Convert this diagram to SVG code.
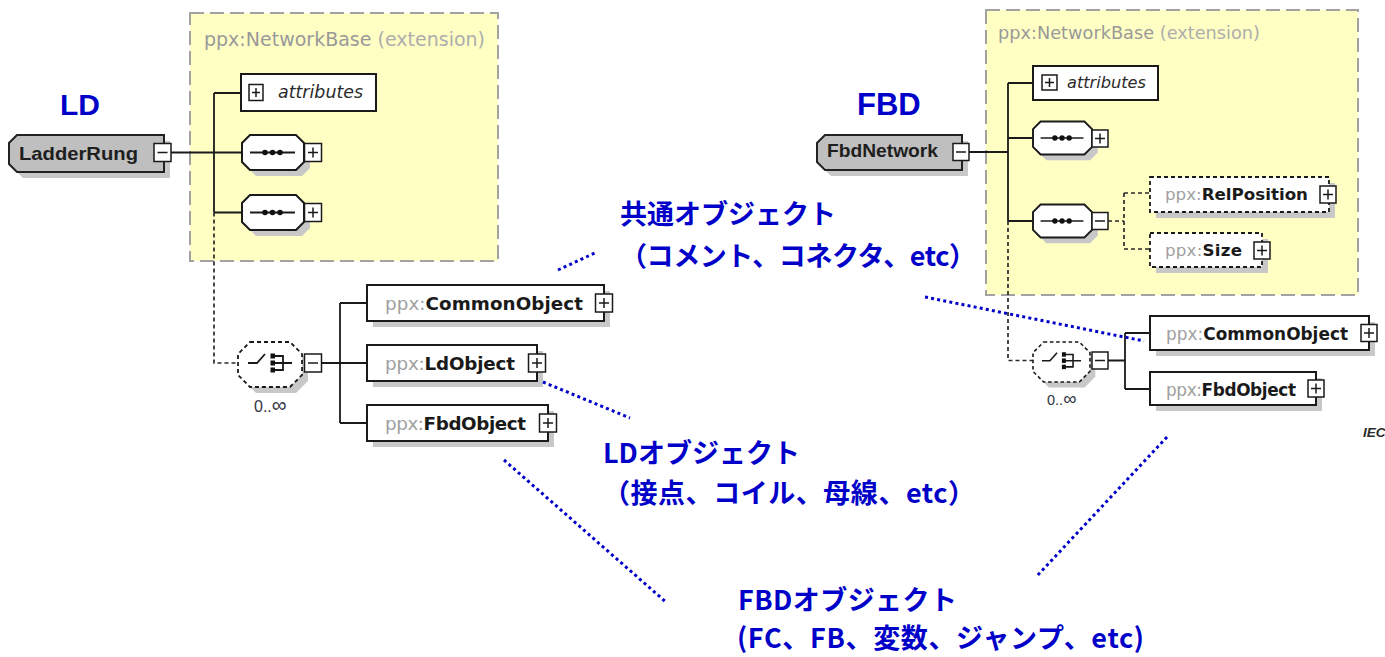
<svg xmlns="http://www.w3.org/2000/svg" xmlns:xlink="http://www.w3.org/1999/xlink" width="1385" height="657" viewBox="0 0 1385 657">
  <style>
    .ext{fill:#ffffc4;stroke:#a2a2a2;stroke-width:2;stroke-dasharray:14 6}
    .ext-a{fill:#999999}
    .ext-b{fill:#adadad}
    .box{fill:#fff;stroke:#1a1a1a;stroke-width:2}
    .opt{fill:#fff;stroke:#1a1a1a;stroke-width:1.8;stroke-dasharray:4 3}
    .gray{fill:#bfbfbf;stroke:#222;stroke-width:2}
    .shadow{fill:#c8c8c8}
    .pm{fill:#fff;stroke:#1a1a1a;stroke-width:1.5}
    .pmx{stroke:#1a1a1a;stroke-width:1.5;fill:none}
    .wire{stroke:#1a1a1a;stroke-width:1.8;fill:none}
    .dwire{stroke:#2a2a2a;stroke-width:1.7;stroke-dasharray:4 3;fill:none}
    .dot{fill:#111}
    .lbl{font-family:"DejaVu Sans","Liberation Sans",sans-serif}
    .top{font-family:"Liberation Sans",Arial,sans-serif;font-weight:bold;fill:#1e1e1e}
    .pfx{fill:#a0a0a0}
    .nm{fill:#1a1a1a;font-weight:bold}
    .it{fill:#2a2a2a;font-style:italic}
    .occ{fill:#333344;font-family:"Liberation Sans",Arial,sans-serif}
    .inf{font-size:1.3em}
    .head{fill:#0000c8;font-family:"Liberation Sans",Arial,sans-serif;font-weight:bold}
    .note{fill:#0000c8;font-family:"Noto Sans CJK JP","Noto Sans",sans-serif;font-weight:bold;font-size:27px}
    .cue{stroke:#0000c8;stroke-width:3;stroke-dasharray:3 3.2;fill:none}
  </style>
  <defs>
    <!-- expand / collapse buttons -->
    <g id="plus"><rect class="pm" width="17" height="18"/><path class="pmx" d="M3.5 9H13.5M8.5 4V14"/></g>
    <g id="minus"><rect class="pm" width="17" height="18"/><path class="pmx" d="M3.5 9H13.5"/></g>
    <g id="plus-s"><rect class="pm" width="16" height="17"/><path class="pmx" d="M3 8.5H13M8 3.5V13.5"/></g>
    <g id="minus-s"><rect class="pm" width="16" height="17"/><path class="pmx" d="M3 8.5H13"/></g>
    <!-- sequence compositor -->
    <path id="seq-shape" d="M8 0H54L62 8V27L54 35H8L0 27V8Z"/>
    <g id="seq">
      <use xlink:href="#seq-shape" class="shadow" transform="translate(6,6)"/>
      <use xlink:href="#seq-shape" class="box"/>
      <path class="wire" d="M8 17.5H53" stroke-width="2"/>
      <circle class="dot" cx="23" cy="17.5" r="2.8"/>
      <circle class="dot" cx="30.5" cy="17.5" r="2.8"/>
      <circle class="dot" cx="38" cy="17.5" r="2.8"/>
    </g>
    <!-- optional, unbounded choice compositor -->
    <path id="choice-shape" d="M12 0H52L64 12V33L52 45H12L0 33V12Z"/>
    <g id="choice">
      <use xlink:href="#choice-shape" class="shadow" transform="translate(6,6)"/>
      <use xlink:href="#choice-shape" class="opt"/>
      <path class="wire" d="M10 21H19L27 12"/>
      <rect class="dot" x="32.5" y="11.5" width="4.5" height="5"/>
      <rect class="dot" x="32.5" y="18.5" width="4.5" height="5"/>
      <rect class="dot" x="32.5" y="25.5" width="4.5" height="5"/>
      <path class="wire" d="M37 14H45V28H37M37 21H54"/>
    </g>
  </defs>

  <!-- extension frames -->
  <g id="ld-base">
    <rect class="ext" x="190" y="13" width="308" height="248"/>
    <text class="lbl" x="204" y="46" font-size="19" textLength="281"><tspan class="ext-a">ppx:NetworkBase</tspan><tspan class="ext-b"> (extension)</tspan></text>
  </g>
  <g id="fbd-base">
    <rect class="ext" x="986" y="10" width="372" height="285"/>
    <text class="lbl" x="998" y="39" font-size="17.7" textLength="262"><tspan class="ext-a">ppx:NetworkBase</tspan><tspan class="ext-b"> (extension)</tspan></text>
  </g>

  <!-- connectors -->
  <g id="connectors">
    <path class="wire" d="M171 152.5H242M214 93V212.5M214 93H241M214 212.5H242"/>
    <path class="dwire" d="M214 212.5V363H238"/>
    <path class="wire" d="M321 363H340M340 303V423M340 303H367M340 363H367M340 423H367"/>

    <path class="wire" d="M969 152H1008M1008 83V221M1008 83H1033M1008 138H1033M1008 221H1033"/>
    <path class="dwire" d="M1108 221H1124M1124 193V249M1124 193H1150M1124 249H1150M1008 221V360.5H1033"/>
    <path class="wire" d="M1108 360.5H1125M1125 333V389M1125 333H1150M1125 389H1150"/>
  </g>

  <!-- LD tree -->
  <text id="ld-title" class="head" x="60" y="115" font-size="30">LD</text>
  <g id="ladder-rung">
    <polygon class="shadow" points="23,141 170,141 170,178 23,178 15,170 15,149"/>
    <polygon class="gray" points="17,135 164,135 164,172 17,172 9,164 9,143"/>
    <text class="top" x="19" y="160" font-size="19" textLength="119" lengthAdjust="spacingAndGlyphs">LadderRung</text>
    <use xlink:href="#minus" x="154" y="143.5"/>
  </g>
  <g id="ld-attributes">
    <rect class="box" x="241" y="74" width="135" height="37"/>
    <rect class="pm" x="249" y="84.5" width="14" height="16"/>
    <path class="pmx" d="M252 92.5H260M256 88V97"/>
    <text class="lbl it" x="278" y="98" font-size="17.4" textLength="85">attributes</text>
  </g>
  <g id="ld-seq-1">
    <use xlink:href="#seq" x="242" y="135"/>
    <use xlink:href="#plus" x="304.5" y="143.5"/>
  </g>
  <g id="ld-seq-2">
    <use xlink:href="#seq" x="242" y="195"/>
    <use xlink:href="#plus" x="304.5" y="203.5"/>
  </g>
  <g id="ld-choice">
    <use xlink:href="#choice" x="238" y="342"/>
    <use xlink:href="#minus" x="304.5" y="354"/>
    <text class="occ" x="254" y="412" font-size="16">0..<tspan class="inf">∞</tspan></text>
  </g>
  <g id="ld-common-object">
    <rect class="shadow" x="373" y="291" width="237" height="36"/>
    <rect class="box" x="367" y="285" width="237" height="36"/>
    <text class="lbl" x="385" y="309.5" font-size="18.3" textLength="198"><tspan class="pfx">ppx:</tspan><tspan class="nm">CommonObject</tspan></text>
    <use xlink:href="#plus" x="595.5" y="294"/>
  </g>
  <g id="ld-ld-object">
    <rect class="shadow" x="373" y="351" width="170" height="36"/>
    <rect class="box" x="367" y="345" width="170" height="36"/>
    <text class="lbl" x="385" y="369.5" font-size="18.3" textLength="130"><tspan class="pfx">ppx:</tspan><tspan class="nm">LdObject</tspan></text>
    <use xlink:href="#plus" x="528.5" y="354"/>
  </g>
  <g id="ld-fbd-object">
    <rect class="shadow" x="373" y="411" width="181" height="36"/>
    <rect class="box" x="367" y="405" width="181" height="36"/>
    <text class="lbl" x="385" y="429.5" font-size="18.3" textLength="141"><tspan class="pfx">ppx:</tspan><tspan class="nm">FbdObject</tspan></text>
    <use xlink:href="#plus" x="539.5" y="414"/>
  </g>

  <!-- FBD tree -->
  <text id="fbd-title" class="head" x="857" y="115" font-size="31">FBD</text>
  <g id="fbd-network">
    <polygon class="shadow" points="831,141 968,141 968,176 831,176 823,168 823,149"/>
    <polygon class="gray" points="825,135 962,135 962,170 825,170 817,162 817,143"/>
    <text class="top" x="827" y="157" font-size="18" textLength="111" lengthAdjust="spacingAndGlyphs">FbdNetwork</text>
    <use xlink:href="#minus-s" x="953" y="143.5"/>
  </g>
  <g id="fbd-attributes">
    <rect class="box" x="1033" y="66" width="125" height="34"/>
    <rect class="pm" x="1042" y="75" width="15" height="15"/>
    <path class="pmx" d="M1045 82.5H1054M1049.5 78V87"/>
    <text class="lbl it" x="1067" y="88" font-size="16.2" textLength="79">attributes</text>
  </g>
  <g id="fbd-seq-1">
    <use xlink:href="#seq" transform="translate(1033,121.5) scale(0.952,0.943)"/>
    <use xlink:href="#plus-s" x="1092" y="130"/>
  </g>
  <g id="fbd-seq-2">
    <use xlink:href="#seq" transform="translate(1033,204.5) scale(0.952,0.943)"/>
    <use xlink:href="#minus-s" x="1092" y="212.5"/>
  </g>
  <g id="fbd-rel-position">
    <rect class="shadow" x="1156" y="183" width="179" height="35"/>
    <rect class="opt" x="1150" y="177" width="179" height="35"/>
    <text class="lbl" x="1165" y="200" font-size="16.7" textLength="143"><tspan class="pfx">ppx:</tspan><tspan class="nm">RelPosition</tspan></text>
    <use xlink:href="#plus-s" x="1320" y="186"/>
  </g>
  <g id="fbd-size">
    <rect class="shadow" x="1156" y="239" width="112" height="34"/>
    <rect class="opt" x="1150" y="233" width="112" height="34"/>
    <text class="lbl" x="1165" y="256" font-size="16.7" textLength="77"><tspan class="pfx">ppx:</tspan><tspan class="nm">Size</tspan></text>
    <use xlink:href="#plus-s" x="1254" y="242"/>
  </g>
  <g id="fbd-choice">
    <use xlink:href="#choice" transform="translate(1033,342) scale(0.89)"/>
    <use xlink:href="#minus-s" x="1092" y="352"/>
    <text class="occ" x="1047" y="405" font-size="14.5">0..<tspan class="inf">∞</tspan></text>
  </g>
  <g id="fbd-common-object">
    <rect class="shadow" x="1156" y="322" width="219" height="34"/>
    <rect class="box" x="1150" y="316" width="219" height="34"/>
    <text class="lbl" x="1166" y="340" font-size="16.9" textLength="182"><tspan class="pfx">ppx:</tspan><tspan class="nm">CommonObject</tspan></text>
    <use xlink:href="#plus-s" x="1361" y="324.5"/>
  </g>
  <g id="fbd-fbd-object">
    <rect class="shadow" x="1156" y="378" width="166" height="33"/>
    <rect class="box" x="1150" y="372" width="166" height="33"/>
    <text class="lbl" x="1166" y="396" font-size="16.9" textLength="130"><tspan class="pfx">ppx:</tspan><tspan class="nm">FbdObject</tspan></text>
    <use xlink:href="#plus-s" x="1308" y="380"/>
  </g>
  <text id="source-mark" x="1363" y="437" font-family="Liberation Sans,Arial,sans-serif" font-size="13.5" font-style="italic" font-weight="bold" fill="#2a2a2a">IEC</text>

  <!-- callout notes -->
  <g id="note-common">
    <text class="note" x="620" y="224">共通オブジェクト</text>
    <text class="note" x="620" y="266" textLength="356">（コメント、コネクタ、etc）</text>
  </g>
  <g id="note-ld">
    <text class="note" x="603" y="463">LDオブジェクト</text>
    <text class="note" x="603" y="503" textLength="372">（接点、コイル、母線、etc）</text>
  </g>
  <g id="note-fbd">
    <text class="note" x="738" y="610" textLength="219">FBDオブジェクト</text>
    <text class="note" x="737" y="648" textLength="407">(FC、FB、変数、ジャンプ、etc)</text>
  </g>

  <!-- dotted leaders -->
  <g id="leaders">
    <path class="cue" d="M558 270L597 252"/>
    <path class="cue" d="M925 297L1144 341"/>
    <path class="cue" d="M543 382L630 418"/>
    <path class="cue" d="M504 460L667 603"/>
    <path class="cue" d="M1167 437L1036 577"/>
  </g>
</svg>
